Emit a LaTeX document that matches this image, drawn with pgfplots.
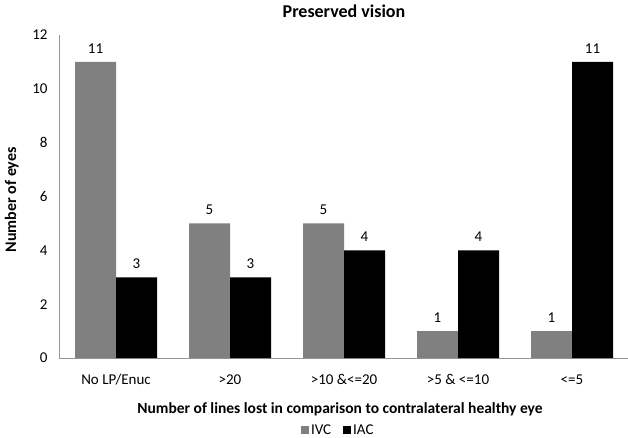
\documentclass[border=0pt]{standalone}
\usepackage{pgfplots}
\pgfplotsset{compat=1.18}
\usepackage{fontspec}
\setmainfont{Carlito}
\definecolor{ivc}{RGB}{128,128,128}
\definecolor{axgray}{RGB}{150,150,150}
\begin{document}
\begin{tikzpicture}
\useasboundingbox (0,0) rectangle (628pt,437pt);
\begin{axis}[
  at={(59pt,79pt)}, anchor=south west,
  scale only axis, width=570pt, height=323pt,
  ybar=0pt, bar width=41pt,
  xmin=-0.5, xmax=4.5, ymin=0, ymax=12,
  xtick=data,
  xticklabels={No LP/Enuc,>20,>10 \&<=20,>5 \& <=10,<=5},
  ytick={0,2,...,12},
  axis x line*=bottom, axis y line*=left,
  axis line style={axgray,-},
  major tick length=0pt,
  tick label style={font=\fontsize{15}{17}\selectfont},
  /pgf/number format/assume math mode=true,
  yticklabel style={xshift=-8pt},
  xticklabel style={yshift=-13pt},
  title={\bfseries Preserved vision},
  title style={font=\fontsize{18}{20}\selectfont, at={(axis description cs:0.5,1.055)}, anchor=center},
  xlabel={\bfseries Number of lines lost in comparison to contralateral healthy eye},
  xlabel style={font=\fontsize{15.5}{18}\selectfont, at={(axis description cs:0.493,-0.158)}, anchor=center},
  ylabel={\bfseries Number of eyes},
  ylabel style={font=\fontsize{16}{18}\selectfont, at={(axis description cs:-0.083,0.49)}, anchor=center},
  nodes near coords,
  nodes near coords style={font=\fontsize{15}{17}\selectfont, yshift=5pt},
  legend style={draw=none, at={(axis description cs:0.49,-0.223)}, anchor=center,
    legend columns=2, font=\fontsize{15}{17}\selectfont,
    /tikz/every even column/.append style={column sep=10pt}},
  legend image code/.code={\draw[#1, draw=none] (0pt,-4pt) rectangle (8pt,4pt);},
]
\addplot[fill=ivc, draw=none] coordinates {(0,11) (1,5) (2,5) (3,1) (4,1)};
\addplot[fill=black, draw=none] coordinates {(0,3) (1,3) (2,4) (3,4) (4,11)};
\legend{IVC,IAC}
\end{axis}
\end{tikzpicture}
\end{document}
